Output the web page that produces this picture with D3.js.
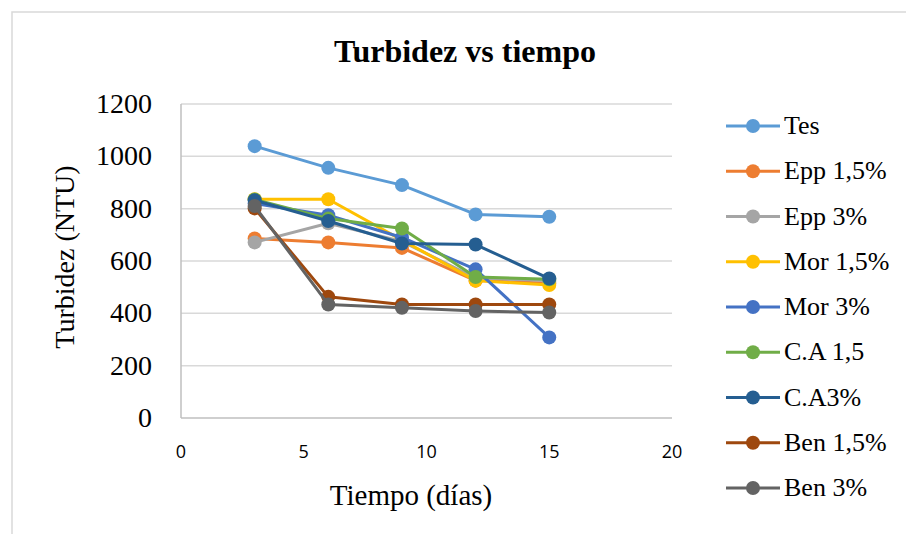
<!DOCTYPE html>
<html>
<head>
<meta charset="utf-8">
<script src="https://cdn.jsdelivr.net/npm/d3@7"></script>
<style>
  body { margin: 0; background: #fff; }
  svg text { font-family: "Liberation Serif", "Times New Roman", serif; fill: #000; }
  .xtick { font-family: "Open Sans", sans-serif; }
</style>
</head>
<body>
<svg width="906" height="534"></svg>
<script>
const days = [3, 6, 9, 12, 15]

const seriesNames = ['Tes', 'Epp 1,5%', 'Epp 3%', 'Mor 1,5%', 'Mor 3%', 'C.A 1,5', 'C.A3%', 'Ben 1,5%', 'Ben 3%']
const colors = ['#5B9BD5', '#ED7D31', '#A5A5A5', '#FFC000', '#4472C4', '#70AD47', '#255E91', '#9E480E', '#636363']

const tes = [1039, 956, 890, 778, 769]
const epp15 = [686, 671, 650, 525, 515]
const epp3 = [671, 744, 675, 535, 525]
const mor15 = [836, 836, 680, 525, 508]
const mor3 = [820, 775, 690, 568, 308]
const ca15 = [835, 762, 724, 539, 530]
const ca3 = [832, 753, 667, 663, 533]
const ben15 = [801, 463, 434, 434, 434]
const ben3 = [810, 434, 421, 409, 403]

const seriesValues = [tes, epp15, epp3, mor15, mor3, ca15, ca3, ben15, ben3]

const xTicks = [0, 5, 10, 15, 20]
const yTicks = [0, 200, 400, 600, 800, 1000, 1200]

const svg = d3.select('svg')

// chart frame
svg.append('rect')
  .attr('x', 12).attr('y', 12)
  .attr('width', 1000).attr('height', 1000)
  .attr('fill', 'none')
  .attr('stroke', '#d9d9d9')
  .attr('stroke-width', 1.5)

const x = d3.scaleLinear().domain([0, 20]).range([181, 672])
const y = d3.scaleLinear().domain([0, 1200]).range([418, 104])

// gridlines
svg.append('g')
  .selectAll('line')
  .data(yTicks.slice(1))
  .enter()
  .append('line')
  .attr('x1', x(0)).attr('x2', x(20))
  .attr('y1', d => y(d)).attr('y2', d => y(d))
  .attr('stroke', '#d9d9d9')
  .attr('stroke-width', 1.5)

// axes lines
svg.append('line')
  .attr('x1', x(0)).attr('x2', x(0))
  .attr('y1', y(0)).attr('y2', y(1200))
  .attr('stroke', '#bfbfbf').attr('stroke-width', 1.5)
svg.append('line')
  .attr('x1', x(0)).attr('x2', x(20))
  .attr('y1', y(0)).attr('y2', y(0))
  .attr('stroke', '#bfbfbf').attr('stroke-width', 1.5)

// y tick labels
svg.append('g')
  .selectAll('text')
  .data(yTicks)
  .enter()
  .append('text')
  .attr('x', 152)
  .attr('y', d => y(d) + 9)
  .attr('text-anchor', 'end')
  .style('font-size', '28px')
  .text(d => d)

// x tick labels
svg.append('g')
  .selectAll('text')
  .data(xTicks)
  .enter()
  .append('text')
  .attr('class', 'xtick')
  .attr('x', d => x(d))
  .attr('y', 458)
  .attr('text-anchor', 'middle')
  .style('font-size', '18px')
  .text(d => d)

// titles
svg.append('text')
  .attr('x', 465).attr('y', 62)
  .attr('text-anchor', 'middle')
  .style('font-size', '32px')
  .style('font-weight', 'bold')
  .text('Turbidez vs tiempo')

svg.append('text')
  .attr('x', 411).attr('y', 505)
  .attr('text-anchor', 'middle')
  .style('font-size', '29px')
  .text('Tiempo (días)')

svg.append('text')
  .attr('transform', 'translate(74,257) rotate(-90)')
  .attr('text-anchor', 'middle')
  .style('font-size', '28px')
  .text('Turbidez (NTU)')

// series
const line = d3.line()
  .x((d, i) => x(days[i]))
  .y(d => y(d))

const seriesGroups = svg.append('g')
  .selectAll('g')
  .data(seriesValues)
  .enter()
  .append('g')
  .attr('fill', (d, i) => colors[i])

seriesGroups
  .append('path')
  .attr('d', d => line(d))
  .attr('fill', 'none')
  .attr('stroke', (d, i) => colors[i])
  .attr('stroke-width', 3)
  .attr('stroke-linejoin', 'round')

seriesGroups
  .selectAll('circle')
  .data(d => d)
  .enter()
  .append('circle')
  .attr('cx', (d, i) => x(days[i]))
  .attr('cy', d => y(d))
  .attr('r', 7)

// legend
const legend = svg.append('g')
  .selectAll('g')
  .data(seriesNames)
  .enter()
  .append('g')
  .attr('transform', (d, i) => `translate(726,${126 + i * 45.25})`)

legend.append('line')
  .attr('x1', 0).attr('x2', 54)
  .attr('y1', 0).attr('y2', 0)
  .attr('stroke', (d, i) => colors[i])
  .attr('stroke-width', 3)

legend.append('circle')
  .attr('cx', 27).attr('cy', 0)
  .attr('r', 7)
  .attr('fill', (d, i) => colors[i])

legend.append('text')
  .attr('x', 58).attr('y', 8)
  .style('font-size', '26px')
  .text(d => d)
</script>
</body>
</html>
